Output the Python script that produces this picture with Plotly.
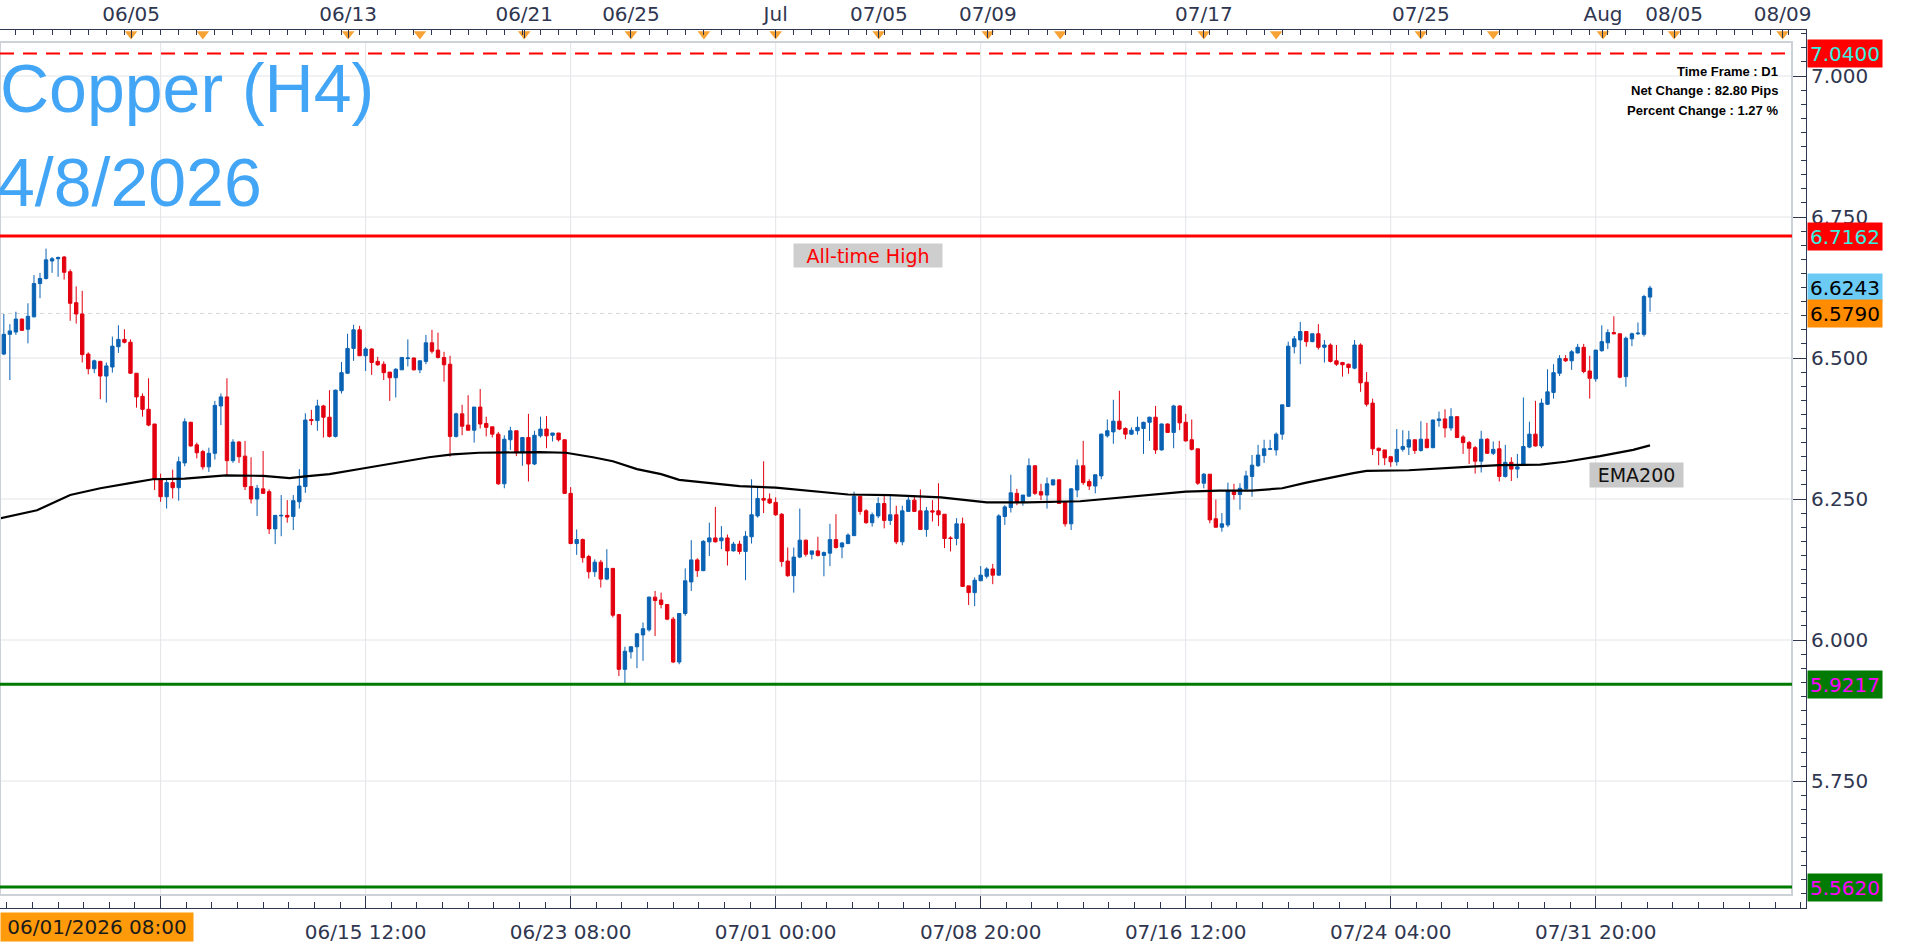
import plotly.graph_objects as go

# Copper H4 candles. Bar 0 = 06/01/2026 08:00
open_ = [
    6.455, 6.507, 6.542, 6.546, 6.569, 6.551, 6.573, 6.632, 6.641, 6.672,
    6.676, 6.679, 6.653, 6.598, 6.578, 6.507, 6.481, 6.494, 6.468, 6.484,
    6.520, 6.533, 6.528, 6.473, 6.432, 6.409, 6.383, 6.285, 6.254, 6.279,
    6.270, 6.314, 6.386, 6.346, 6.334, 6.307, 6.331, 6.415, 6.431, 6.318,
    6.351, 6.326, 6.272, 6.250, 6.268, 6.263, 6.197, 6.220, 6.221, 6.219,
    6.245, 6.272, 6.391, 6.389, 6.415, 6.395, 6.361, 6.442, 6.473, 6.517,
    6.550, 6.504, 6.516, 6.494, 6.489, 6.475, 6.465, 6.479, 6.499, 6.500,
    6.479, 6.494, 6.527, 6.514, 6.501, 6.489, 6.361, 6.401, 6.381, 6.372,
    6.413, 6.384, 6.378, 6.365, 6.277, 6.355, 6.371, 6.332, 6.359, 6.312,
    6.362, 6.374, 6.363, 6.367, 6.355, 6.260, 6.171, 6.178, 6.148, 6.121,
    6.138, 6.108, 6.127, 6.045, 5.948, 5.979, 5.988, 6.009, 6.018, 6.076,
    6.071, 6.063, 6.037, 5.961, 6.047, 6.103, 6.142, 6.123, 6.174, 6.181,
    6.176, 6.181, 6.158, 6.170, 6.157, 6.183, 6.220, 6.251, 6.250, 6.244,
    6.223, 6.140, 6.114, 6.147, 6.177, 6.152, 6.158, 6.150, 6.154, 6.178,
    6.165, 6.171, 6.185, 6.255, 6.229, 6.208, 6.220, 6.242, 6.212, 6.222,
    6.174, 6.228, 6.248, 6.229, 6.196, 6.229, 6.229, 6.223, 6.181, 6.180,
    6.206, 6.096, 6.084, 6.105, 6.113, 6.126, 6.115, 6.219, 6.235, 6.260,
    6.244, 6.255, 6.309, 6.263, 6.257, 6.275, 6.284, 6.244, 6.206, 6.266,
    6.309, 6.281, 6.273, 6.291, 6.362, 6.369, 6.388, 6.375, 6.365, 6.371,
    6.375, 6.386, 6.395, 6.337, 6.383, 6.368, 6.415, 6.386, 6.355, 6.339,
    6.278, 6.294, 6.215, 6.200, 6.204, 6.264, 6.258, 6.268, 6.290, 6.309,
    6.327, 6.338, 6.337, 6.365, 6.414, 6.520, 6.532, 6.547, 6.529, 6.543,
    6.519, 6.523, 6.495, 6.492, 6.489, 6.482, 6.523, 6.457, 6.420, 6.340,
    6.337, 6.325, 6.316, 6.338, 6.342, 6.355, 6.336, 6.356, 6.341, 6.389,
    6.392, 6.376, 6.396, 6.360, 6.350, 6.341, 6.317, 6.356, 6.331, 6.339,
    6.290, 6.315, 6.303, 6.311, 6.342, 6.365, 6.344, 6.418, 6.439, 6.473,
    6.499, 6.495, 6.509, 6.519, 6.477, 6.463, 6.513, 6.527, 6.545, 6.543,
    6.467, 6.534, 6.543, 6.542, 6.608,
]
high = [
    6.511, 6.578, 6.560, 6.582, 6.570, 6.597, 6.647, 6.651, 6.694, 6.679,
    6.680, 6.681, 6.657, 6.627, 6.619, 6.510, 6.497, 6.495, 6.492, 6.538,
    6.558, 6.551, 6.533, 6.473, 6.437, 6.464, 6.383, 6.295, 6.286, 6.302,
    6.325, 6.393, 6.387, 6.350, 6.337, 6.341, 6.424, 6.437, 6.464, 6.356,
    6.353, 6.353, 6.324, 6.275, 6.335, 6.267, 6.221, 6.257, 6.248, 6.257,
    6.303, 6.402, 6.408, 6.426, 6.417, 6.443, 6.444, 6.493, 6.543, 6.559,
    6.557, 6.519, 6.517, 6.502, 6.494, 6.475, 6.482, 6.501, 6.533, 6.501,
    6.496, 6.541, 6.550, 6.545, 6.511, 6.504, 6.403, 6.417, 6.434, 6.413,
    6.445, 6.396, 6.378, 6.369, 6.363, 6.378, 6.371, 6.359, 6.401, 6.371,
    6.396, 6.397, 6.367, 6.367, 6.356, 6.271, 6.196, 6.180, 6.151, 6.143,
    6.142, 6.161, 6.127, 6.046, 5.988, 5.989, 6.012, 6.031, 6.077, 6.087,
    6.084, 6.063, 6.041, 6.047, 6.127, 6.177, 6.145, 6.177, 6.208, 6.236,
    6.202, 6.187, 6.174, 6.176, 6.193, 6.285, 6.273, 6.317, 6.260, 6.253,
    6.225, 6.164, 6.164, 6.233, 6.178, 6.158, 6.183, 6.157, 6.206, 6.223,
    6.174, 6.189, 6.263, 6.255, 6.232, 6.226, 6.253, 6.255, 6.255, 6.238,
    6.238, 6.254, 6.254, 6.267, 6.236, 6.248, 6.278, 6.223, 6.184, 6.216,
    6.217, 6.096, 6.111, 6.131, 6.129, 6.135, 6.223, 6.239, 6.293, 6.268,
    6.257, 6.322, 6.309, 6.277, 6.288, 6.284, 6.284, 6.244, 6.269, 6.320,
    6.353, 6.285, 6.293, 6.366, 6.391, 6.426, 6.442, 6.377, 6.377, 6.396,
    6.387, 6.396, 6.415, 6.384, 6.384, 6.417, 6.416, 6.401, 6.391, 6.339,
    6.296, 6.294, 6.249, 6.225, 6.279, 6.277, 6.278, 6.300, 6.328, 6.346,
    6.355, 6.355, 6.368, 6.417, 6.529, 6.539, 6.564, 6.548, 6.543, 6.560,
    6.532, 6.526, 6.523, 6.493, 6.490, 6.532, 6.526, 6.475, 6.428, 6.341,
    6.337, 6.325, 6.374, 6.372, 6.371, 6.355, 6.388, 6.385, 6.391, 6.405,
    6.409, 6.411, 6.396, 6.363, 6.353, 6.344, 6.371, 6.358, 6.352, 6.353,
    6.346, 6.324, 6.330, 6.430, 6.387, 6.424, 6.428, 6.480, 6.489, 6.505,
    6.505, 6.514, 6.525, 6.525, 6.504, 6.514, 6.558, 6.551, 6.574, 6.543,
    6.538, 6.545, 6.563, 6.612, 6.628,
]
low = [
    6.449, 6.505, 6.461, 6.541, 6.548, 6.526, 6.572, 6.606, 6.639, 6.651,
    6.644, 6.639, 6.566, 6.561, 6.492, 6.471, 6.473, 6.427, 6.421, 6.474,
    6.509, 6.526, 6.472, 6.412, 6.396, 6.379, 6.266, 6.245, 6.233, 6.251,
    6.247, 6.308, 6.343, 6.322, 6.302, 6.298, 6.320, 6.381, 6.292, 6.314,
    6.314, 6.266, 6.242, 6.220, 6.259, 6.188, 6.170, 6.184, 6.208, 6.195,
    6.233, 6.261, 6.381, 6.371, 6.359, 6.359, 6.359, 6.437, 6.472, 6.495,
    6.504, 6.477, 6.470, 6.486, 6.461, 6.424, 6.430, 6.479, 6.485, 6.478,
    6.473, 6.489, 6.508, 6.499, 6.458, 6.325, 6.359, 6.363, 6.371, 6.350,
    6.375, 6.361, 6.359, 6.275, 6.269, 6.337, 6.326, 6.309, 6.281, 6.310,
    6.359, 6.340, 6.352, 6.352, 6.259, 6.170, 6.151, 6.137, 6.109, 6.112,
    6.093, 6.106, 6.040, 5.936, 5.920, 5.967, 5.950, 5.963, 6.015, 6.007,
    6.056, 6.035, 5.959, 5.957, 6.043, 6.087, 6.112, 6.122, 6.149, 6.173,
    6.161, 6.132, 6.157, 6.152, 6.106, 6.171, 6.217, 6.225, 6.241, 6.220,
    6.130, 6.112, 6.084, 6.145, 6.148, 6.143, 6.148, 6.113, 6.131, 6.162,
    6.145, 6.170, 6.185, 6.222, 6.206, 6.201, 6.216, 6.198, 6.204, 6.170,
    6.168, 6.228, 6.227, 6.195, 6.183, 6.210, 6.202, 6.163, 6.157, 6.168,
    6.094, 6.062, 6.060, 6.105, 6.109, 6.099, 6.114, 6.204, 6.226, 6.239,
    6.238, 6.254, 6.257, 6.248, 6.233, 6.274, 6.241, 6.201, 6.195, 6.253,
    6.275, 6.266, 6.260, 6.285, 6.359, 6.348, 6.372, 6.356, 6.364, 6.364,
    6.330, 6.353, 6.330, 6.336, 6.367, 6.340, 6.372, 6.352, 6.336, 6.275,
    6.269, 6.207, 6.199, 6.192, 6.200, 6.249, 6.231, 6.266, 6.254, 6.307,
    6.314, 6.337, 6.327, 6.355, 6.413, 6.508, 6.489, 6.520, 6.528, 6.515,
    6.492, 6.492, 6.486, 6.467, 6.472, 6.480, 6.440, 6.414, 6.328, 6.310,
    6.310, 6.307, 6.309, 6.334, 6.328, 6.330, 6.334, 6.340, 6.340, 6.378,
    6.359, 6.371, 6.358, 6.330, 6.312, 6.295, 6.297, 6.330, 6.328, 6.281,
    6.288, 6.282, 6.287, 6.310, 6.340, 6.343, 6.340, 6.417, 6.428, 6.468,
    6.493, 6.479, 6.508, 6.473, 6.428, 6.458, 6.511, 6.516, 6.542, 6.464,
    6.449, 6.521, 6.541, 6.538, 6.582,
]
close = [
    6.508, 6.542, 6.548, 6.569, 6.549, 6.574, 6.632, 6.641, 6.674, 6.676,
    6.678, 6.652, 6.597, 6.578, 6.506, 6.481, 6.495, 6.468, 6.486, 6.521,
    6.533, 6.528, 6.473, 6.431, 6.409, 6.381, 6.285, 6.254, 6.279, 6.270,
    6.316, 6.387, 6.344, 6.332, 6.307, 6.331, 6.416, 6.431, 6.318, 6.351,
    6.325, 6.272, 6.250, 6.269, 6.260, 6.197, 6.221, 6.221, 6.218, 6.247,
    6.273, 6.390, 6.389, 6.415, 6.395, 6.361, 6.443, 6.474, 6.517, 6.550,
    6.504, 6.516, 6.492, 6.488, 6.474, 6.465, 6.480, 6.501, 6.500, 6.479,
    6.495, 6.527, 6.512, 6.501, 6.488, 6.361, 6.401, 6.379, 6.372, 6.413,
    6.383, 6.377, 6.365, 6.277, 6.356, 6.371, 6.332, 6.359, 6.312, 6.363,
    6.374, 6.362, 6.367, 6.355, 6.260, 6.171, 6.178, 6.146, 6.121, 6.138,
    6.108, 6.127, 6.044, 5.948, 5.980, 5.988, 6.011, 6.020, 6.076, 6.070,
    6.063, 6.037, 5.961, 6.047, 6.105, 6.142, 6.123, 6.175, 6.181, 6.174,
    6.181, 6.158, 6.170, 6.157, 6.184, 6.222, 6.251, 6.248, 6.243, 6.222,
    6.139, 6.114, 6.147, 6.177, 6.152, 6.158, 6.150, 6.155, 6.178, 6.164,
    6.172, 6.186, 6.255, 6.228, 6.208, 6.222, 6.242, 6.212, 6.222, 6.174,
    6.229, 6.248, 6.228, 6.196, 6.229, 6.227, 6.222, 6.180, 6.180, 6.206,
    6.095, 6.084, 6.106, 6.115, 6.126, 6.115, 6.220, 6.236, 6.261, 6.244,
    6.257, 6.309, 6.260, 6.257, 6.277, 6.284, 6.242, 6.206, 6.268, 6.309,
    6.279, 6.273, 6.293, 6.365, 6.371, 6.388, 6.374, 6.365, 6.372, 6.377,
    6.386, 6.395, 6.337, 6.383, 6.368, 6.415, 6.385, 6.353, 6.338, 6.278,
    6.294, 6.213, 6.200, 6.206, 6.264, 6.258, 6.269, 6.291, 6.310, 6.328,
    6.339, 6.339, 6.365, 6.417, 6.521, 6.534, 6.547, 6.529, 6.543, 6.519,
    6.523, 6.494, 6.489, 6.488, 6.483, 6.523, 6.456, 6.418, 6.339, 6.336,
    6.323, 6.316, 6.338, 6.343, 6.355, 6.336, 6.356, 6.341, 6.390, 6.392,
    6.376, 6.396, 6.359, 6.350, 6.340, 6.317, 6.356, 6.331, 6.338, 6.290,
    6.315, 6.303, 6.307, 6.343, 6.365, 6.344, 6.420, 6.440, 6.474, 6.499,
    6.495, 6.511, 6.519, 6.476, 6.464, 6.514, 6.529, 6.545, 6.543, 6.466,
    6.535, 6.543, 6.544, 6.609, 6.624,
]

# EMA200 read at a few bars along the line
ema_x = [0, 6.5, 12, 17, 22.4, 25.7, 31, 37.8, 44, 48.4, 51, 55, 60.5, 66,
         71.5, 75.4, 79.8, 89.8, 94.2, 98.7, 102, 106, 110, 113, 117.5, 123,
         129, 135, 141, 148, 156.4, 164, 170.6, 179.5, 187.8, 197, 202.6, 208,
         213, 217, 224.8, 227, 234, 238, 243.6, 249, 255.8, 260, 265.7, 271.2, 274]
ema_y = [6.215, 6.230, 6.257, 6.269, 6.279, 6.285, 6.286, 6.292, 6.291, 6.287,
         6.290, 6.294, 6.304, 6.314, 6.324, 6.329, 6.332, 6.333, 6.332, 6.324,
         6.317, 6.303, 6.294, 6.284, 6.279, 6.273, 6.270, 6.264, 6.258, 6.257,
         6.253, 6.244, 6.244, 6.246, 6.254, 6.263, 6.265, 6.265, 6.269, 6.279,
         6.296, 6.300, 6.301, 6.303, 6.307, 6.310, 6.311, 6.316, 6.326, 6.337, 6.345]

# time axes (positions in bar units)
bottom_ticks = [27, 61, 95, 129, 163, 197, 231, 265]
bottom_labels = ["", "06/15 12:00", "06/23 08:00", "07/01 00:00", "07/08 20:00",
                 "07/16 12:00", "07/24 04:00", "07/31 20:00"]
top_ticks = [22.1, 58.1, 87.3, 105.0, 129.0, 146.1, 164.2, 200.0, 236.0, 266.2, 278.0, 296.0]
top_labels = ["06/05", "06/13", "06/21", "06/25", "Jul", "07/05", "07/09", "07/17",
              "07/25", "Aug", "08/05", "08/09"]
top_marks = [22.1, 34.0, 58.1, 70.0, 87.3, 105.0, 117.1, 129.0, 146.1, 164.2, 176.2,
             200.0, 212.0, 236.0, 248.0, 266.2, 278.0, 296.0]

# price levels
level_dash = 7.0400
level_ath = 6.7162
level_sup1 = 5.9217
level_sup2 = 5.5620
last_price = 6.6243
ref_price = 6.5790
price_ticks = [5.75, 6.00, 6.25, 6.50, 6.75, 7.00]

BLUE = "#0A62B3"
RED = "#E3000F"
GREEN = "#007A00"
AXIS = "#2F3650"

# pixel geometry of the page
W, H = 1910, 947
PL, PR, PT, PB = 0, 1806, 30, 908   # plot area edges
FRAME_R, FRAME_T, FRAME_B = 1792, 42, 895
BAR_PX, BAR0_PX = 6.03, -2.2


def price_at(ypx):
    return 7.0 - (ypx - 76) / 564.0


def px(xpx):
    return (xpx - PL) / (PR - PL)


def py(ypx):
    return (PB - ypx) / (PB - PT)


x_range = [(PL - BAR0_PX) / BAR_PX, (PR - BAR0_PX) / BAR_PX]
y_range = [price_at(PB), price_at(PT)]
frame_x = px(FRAME_R)

n = len(close)
bars = list(range(n))

fig = go.Figure()

fig.add_trace(go.Candlestick(
    x=bars, open=open_, high=high, low=low, close=close,
    increasing=dict(line=dict(color=BLUE, width=1), fillcolor=BLUE),
    decreasing=dict(line=dict(color=RED, width=1), fillcolor=RED),
    whiskerwidth=0, showlegend=False, hoverinfo="skip",
))

fig.add_trace(go.Scatter(
    x=ema_x, y=ema_y, mode="lines", line=dict(color="#000000", width=2.2),
    showlegend=False, hoverinfo="skip",
))

# orange markers on the top date scale
fig.add_trace(go.Scatter(
    x=top_marks, y=[price_at(34)] * len(top_marks), xaxis="x2", mode="markers",
    marker=dict(symbol="triangle-down", size=11, color="#F7A234"),
    cliponaxis=False, showlegend=False, hoverinfo="skip",
))

shapes = []
# grid, kept inside the frame
for p in price_ticks:
    shapes.append(dict(type="line", xref="paper", yref="y", x0=0, x1=frame_x, y0=p, y1=p,
                       line=dict(color="#E2E4E8", width=1), layer="below"))
for t in bottom_ticks:
    shapes.append(dict(type="line", xref="x", yref="paper", x0=t, x1=t,
                       y0=py(FRAME_B), y1=py(FRAME_T),
                       line=dict(color="#E2E4E8", width=1), layer="below"))
shapes.append(dict(type="line", xref="paper", yref="y", x0=0, x1=frame_x,
                   y0=ref_price, y1=ref_price,
                   line=dict(color="#D5D5D5", width=1, dash="4px,4px"), layer="below"))
# frame
shapes.append(dict(type="rect", xref="paper", yref="paper", x0=0, x1=frame_x,
                   y0=py(FRAME_B), y1=py(FRAME_T), line=dict(color="#CDD2D9", width=2)))
# support / resistance lines
shapes.append(dict(type="line", xref="paper", yref="y", x0=0, x1=frame_x,
                   y0=level_dash, y1=level_dash,
                   line=dict(color="#FF0000", width=2, dash="14px,9px")))
shapes.append(dict(type="line", xref="paper", yref="y", x0=0, x1=frame_x,
                   y0=level_ath, y1=level_ath, line=dict(color="#FF0000", width=3)))
for lv in (level_sup1, level_sup2):
    shapes.append(dict(type="line", xref="paper", yref="y", x0=0, x1=frame_x,
                       y0=lv, y1=lv, line=dict(color=GREEN, width=3)))

annotations = []
title_font = "Liberation Sans, Arial"
annotations.append(dict(text="Copper (H4)", xref="paper", yref="paper", x=0, y=py(88),
                        xanchor="left", yanchor="middle", showarrow=False, xshift=-2,
                        font=dict(family=title_font, size=68, color="#42A5F5")))
annotations.append(dict(text="4/8/2026", xref="paper", yref="paper", x=0, y=py(182),
                        xanchor="left", yanchor="middle", showarrow=False, xshift=-5,
                        font=dict(family=title_font, size=68, color="#42A5F5")))

info = ["Time Frame : D1", "Net Change : 82.80 Pips", "Percent Change : 1.27 %"]
for k, line in enumerate(info):
    annotations.append(dict(text="<b>" + line + "</b>", xref="paper", yref="paper",
                            x=px(1780), y=py(71 + 20 * k), xanchor="right", yanchor="middle",
                            showarrow=False,
                            font=dict(family="Liberation Sans, Arial", size=13, color="#000000")))

annotations.append(dict(text="All-time High", xref="paper", yref="paper", x=px(868), y=py(256),
                        xanchor="center", yanchor="middle", showarrow=False,
                        width=148, height=23, bgcolor="#CECECE", borderpad=0,
                        font=dict(family="DejaVu Sans", size=19, color="#FF0000")))
annotations.append(dict(text="EMA200", xref="paper", yref="paper", x=px(1636), y=py(475),
                        xanchor="center", yanchor="middle", showarrow=False,
                        width=93, height=24, bgcolor="#C9C9C9", borderpad=0,
                        font=dict(family="DejaVu Sans", size=19, color="#111111")))

price_boxes = [
    (level_dash, "#FF0000", "#35F0E0"),
    (level_ath, "#FF0000", "#35F0E0"),
    (last_price, "#6CCBF5", "#000000"),
    (ref_price, "#FF8C00", "#000000"),
    (level_sup1, GREEN, "#FF00FF"),
    (level_sup2, GREEN, "#FF00FF"),
]
for val, bg, fg in price_boxes:
    annotations.append(dict(text=f"{val:.4f}", xref="paper", yref="y", x=px(1807), y=val,
                            xanchor="left", yanchor="middle", showarrow=False,
                            width=74, height=27, bgcolor=bg, borderpad=0,
                            font=dict(family="DejaVu Sans", size=20, color=fg)))

annotations.append(dict(text="06/01/2026 08:00", xref="paper", yref="paper", x=0, y=py(927),
                        xanchor="left", yanchor="middle", showarrow=False,
                        width=192, height=28, bgcolor="#FF9A0A", borderpad=0,
                        font=dict(family="DejaVu Sans", size=20, color="#1A1A1A")))

tick_font = dict(family="DejaVu Sans", size=20, color=AXIS)

fig.update_layout(
    width=W, height=H,
    margin=dict(l=PL, r=W - PR, t=PT, b=H - PB),
    paper_bgcolor="#FFFFFF", plot_bgcolor="#FFFFFF",
    showlegend=False, boxgap=0.2, hovermode=False,
    shapes=shapes, annotations=annotations,
    xaxis=dict(
        range=x_range, rangeslider=dict(visible=False), showgrid=False, zeroline=False,
        tickmode="array", tickvals=bottom_ticks, ticktext=bottom_labels,
        ticks="inside", ticklen=12, tickcolor=AXIS, tickwidth=1,
        showline=True, linecolor=AXIS, linewidth=1, tickfont=tick_font,
        ticklabelstandoff=6,
        minor=dict(tick0=27, dtick=4.25, ticks="inside", ticklen=6, tickcolor=AXIS, showgrid=False),
    ),
    xaxis2=dict(
        range=x_range, overlaying="x", side="top", anchor="y", showgrid=False, zeroline=False,
        tickmode="array", tickvals=top_ticks, ticktext=top_labels,
        ticks="inside", ticklen=8, tickcolor=AXIS, tickwidth=1,
        showline=True, linecolor=AXIS, linewidth=1, tickfont=tick_font,
        minor=dict(tick0=0, dtick=3, ticks="inside", ticklen=5, tickcolor=AXIS, showgrid=False),
    ),
    yaxis=dict(
        range=y_range, side="right", showgrid=False, zeroline=False,
        tickmode="array", tickvals=price_ticks, tickformat=".3f",
        ticks="inside", ticklen=13, tickcolor=AXIS, tickwidth=1,
        showline=True, linecolor=AXIS, linewidth=1, tickfont=tick_font,
        minor=dict(tick0=5.75, dtick=0.025, ticks="inside", ticklen=5, tickcolor=AXIS, showgrid=False),
    ),
)

# the page body has an 8px default margin; drop it so the figure fills the window
fig.write_html("out.html", config={"displayModeBar": False},
               post_script="document.body.style.margin='0px';document.body.style.overflow='hidden';")
